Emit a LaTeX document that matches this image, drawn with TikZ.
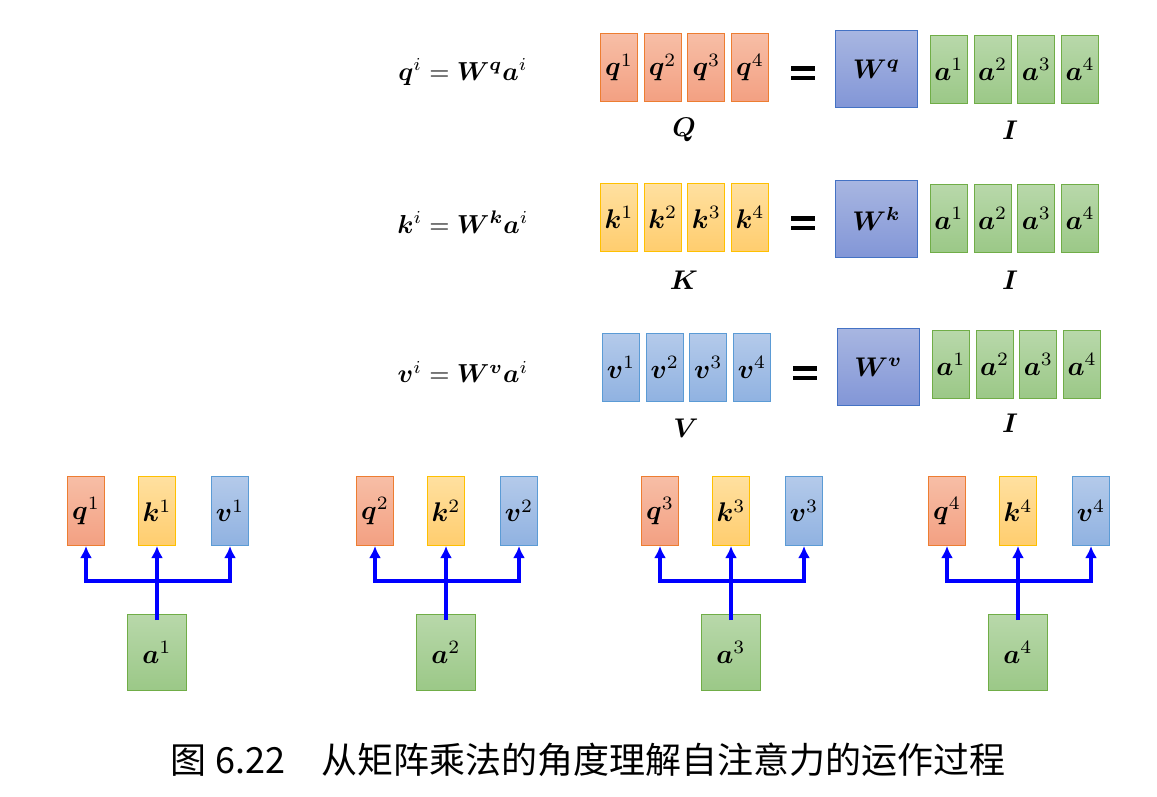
\documentclass[tikz,border=0pt]{standalone}
\usepackage{amsmath,bm,graphicx}
\usepackage{fontspec}
\newfontfamily\cjk{Noto Sans CJK SC}
\usetikzlibrary{arrows.meta}
\newcommand{\bg}[1]{\scalebox{2.7}{$#1$}}
\begin{document}
\begin{tikzpicture}[x=1pt,y=-1pt,
 bx/.style={line width=1pt, inner sep=0pt},
 qb/.style={bx, top color={rgb,255:red,247;green,190;blue,166}, bottom color={rgb,255:red,243;green,160;blue,130}, draw={rgb,255:red,237;green,125;blue,49}},
 kb/.style={bx, top color={rgb,255:red,255;green,224;blue,160}, bottom color={rgb,255:red,255;green,205;blue,110}, draw={rgb,255:red,255;green,192;blue,0}},
 vb/.style={bx, top color={rgb,255:red,180;green,202;blue,234}, bottom color={rgb,255:red,144;green,178;blue,225}, draw={rgb,255:red,91;green,155;blue,213}},
 wb/.style={bx, top color={rgb,255:red,168;green,182;blue,225}, bottom color={rgb,255:red,130;green,150;blue,215}, draw={rgb,255:red,68;green,114;blue,196}},
 ab/.style={bx, top color={rgb,255:red,184;green,216;blue,170}, bottom color={rgb,255:red,155;green,200;blue,135}, draw={rgb,255:red,112;green,173;blue,71}},
 arr/.style={draw=blue, line width=4pt, -{Latex[length=12pt,width=12pt]}}]
\path[use as bounding box] (0,0) rectangle (1157,796);
\foreach \r/\y/\dx/\L/\st/\wdy/\ady/\Ly/\Iy in {q/33/0/Q/qb/-3/2/130/130, k/183/0/K/kb/-3/1/280/280, v/333/2/V/vb/-5/-3/428/423}{
  \node (f\r) at (463,\y+39) {\scalebox{2.6}{$\bm{\r}^i=\bm{W}^{\bm{\r}}\bm{a}^i$}};
  \foreach \i [evaluate=\i as \xx using {600+\dx+(\i-1)*43.7}] in {1,2,3,4}{
    \node[\st, minimum width=37pt, minimum height=68pt, anchor=north west] (\r\i) at (\xx,\y) {\bg{\bm{\r}^{\i}}};
    \node[ab, minimum width=37pt, minimum height=68pt, anchor=north west] (a\r\i) at (\xx+330,\y+\ady) {\bg{\bm{a}^{\i}}};
  }
  \node[wb, minimum width=82pt, minimum height=77pt, anchor=north west] (w\r) at (835+\dx,\y+\wdy) {\bg{\bm{W}^{\bm{\r}}}};
  \coordinate (eq\r) at (803+\dx,\y+40);
  \fill ([xshift=-12pt,yshift=-7pt]eq\r) rectangle ([xshift=12pt,yshift=-2.5pt]eq\r);
  \fill ([xshift=-12pt,yshift=2.5pt]eq\r) rectangle ([xshift=12pt,yshift=7pt]eq\r);
  \node (L\r) at (684+\dx,\Ly) {\bg{\bm{\L}}};
  \node (I\r) at (1010,\Iy) {\bg{\bm{I}}};
}
\foreach \g/\cx in {1/157,2/446,3/731,4/1018}{
  \node[qb, minimum width=37pt, minimum height=69pt, anchor=north] (bq\g) at (\cx-71,476) {\bg{\bm{q}^{\g}}};
  \node[kb, minimum width=37pt, minimum height=69pt, anchor=north] (bk\g) at (\cx,476) {\bg{\bm{k}^{\g}}};
  \node[vb, minimum width=37pt, minimum height=69pt, anchor=north] (bv\g) at (\cx+73,476) {\bg{\bm{v}^{\g}}};
  \node[ab, minimum width=59pt, minimum height=76pt, anchor=north] (ba\g) at (\cx,614) {\bg{\bm{a}^{\g}}};
  \coordinate (j\g) at (\cx,581);
  \draw[arr] ([yshift=-6pt]ba\g.north) -- (bk\g.south);
  \draw[arr] (j\g) -| (bq\g.south);
  \draw[arr] (j\g) -| (bv\g.south);
}
\node[font=\fontsize{36}{38}\selectfont] (cap) at (588,760) {\cjk 图 6.22\quad 从矩阵乘法的角度理解自注意力的运作过程};
\end{tikzpicture}
\end{document}
